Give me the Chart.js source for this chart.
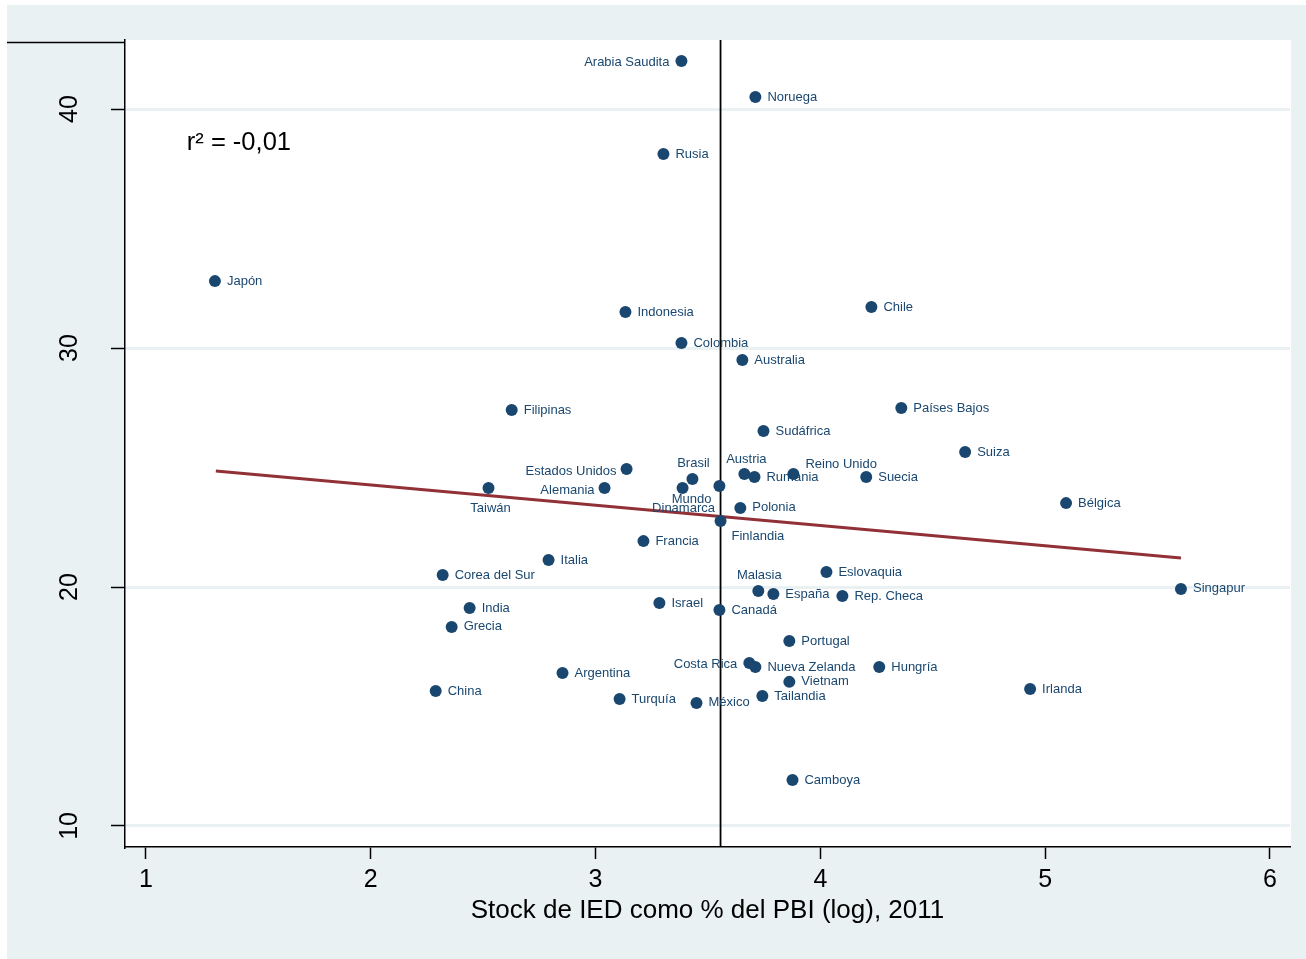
<!DOCTYPE html>
<html>
<head>
<meta charset="utf-8">
<script src="https://cdn.jsdelivr.net/npm/chart.js@4"></script>
<style>
  html, body { margin: 0; padding: 0; background: #ffffff; }
  canvas { display: block; }
</style>
</head>
<body>
<canvas id="c" width="1306" height="959"></canvas>
<script>
// ---------- DATA ----------
const countries = ["Arabia Saudita","Noruega","Rusia","Japón","Indonesia","Chile","Colombia","Australia",
  "Filipinas","Países Bajos","Sudáfrica","Suiza","Estados Unidos","Brasil","Austria","Rumania",
  "Reino Unido","Suecia","Taiwán","Alemania","Dinamarca","Mundo","Polonia","Finlandia","Bélgica",
  "Francia","Italia","Corea del Sur","Eslovaquia","Malasia","España","Rep. Checa","Singapur","India",
  "Israel","Canadá","Grecia","Portugal","Costa Rica","Nueva Zelanda","Hungría","Argentina","Vietnam",
  "China","Irlanda","Turquía","Tailandia","México","Camboya"];
const fdiStockLog = [3.382,3.711,3.302,1.307,3.133,4.227,3.382,3.653,
  2.627,4.360,3.747,4.644,3.138,3.431,3.662,3.707,
  3.880,4.204,2.524,3.040,3.387,3.551,3.644,3.556,5.093,
  3.213,2.791,2.320,4.027,3.724,3.791,4.098,5.604,2.440,
  3.284,3.551,2.360,3.862,3.684,3.711,4.262,2.853,3.862,
  2.289,4.933,3.107,3.742,3.449,3.876];
const yValues = [42.01,40.50,38.12,32.80,31.51,31.72,30.21,29.50,
  27.41,27.49,26.53,25.65,24.94,24.52,24.73,24.60,
  24.73,24.60,24.14,24.14,24.14,24.23,23.31,22.76,23.51,
  21.92,21.13,20.50,20.63,19.83,19.71,19.62,19.92,19.12,
  19.33,19.04,18.33,17.74,16.82,16.65,16.65,16.40,16.03,
  15.65,15.73,15.31,15.44,15.15,11.92];
const fitX = [1.311, 5.604];
const fitY = [24.85, 21.21];
const worldX = 3.556;
const xTicks = [1, 2, 3, 4, 5, 6];
const yTicks = [10, 20, 30, 40];
const r2Text = "r\u00B2 = -0,01";
const xTitle = "Stock de IED como % del PBI (log), 2011";

// ---------- STYLE / LAYOUT ----------
const FONT = '"Liberation Sans", Arial, sans-serif';
const NAVY = '#1a476f';
const BG = '#eaf1f3';
const X_MIN = 0.907, X_MAX = 6.089, Y_MIN = 9.12, Y_MAX = 42.89;

// label placement exceptions (pixel offsets from marker centre)
const labelPlacement = {
  "Arabia Saudita": {dx: -12, dy: 1, align: 'right'},
  "Estados Unidos": {dx: -10, dy: 2, align: 'right'},
  "Alemania": {dx: -10, dy: 2, align: 'right'},
  "Costa Rica": {dx: -12, dy: 1, align: 'right'},
  "Taiwán": {dx: 2, dy: 20, align: 'center'},
  "Dinamarca": {dx: 1, dy: 20, align: 'center'},
  "Mundo": {dx: -8, dy: 14, align: 'right'},
  "Brasil": {dx: 1, dy: -16, align: 'center'},
  "Austria": {dx: 2, dy: -15, align: 'center'},
  "Malasia": {dx: 1, dy: -16, align: 'center'},
  "Finlandia": {dx: 11, dy: 15, align: 'left'},
  "Reino Unido": {dx: 12, dy: -10, align: 'left'}
};

const bgPlugin = {
  id: 'bg',
  beforeDraw(chart) {
    const {ctx, chartArea: a, width, height} = chart;
    ctx.save();
    ctx.fillStyle = '#ffffff';
    ctx.fillRect(0, 0, width, height);
    ctx.fillStyle = BG;
    ctx.fillRect(7, 5, width - 7, height - 5);
    ctx.fillStyle = '#ffffff';
    ctx.fillRect(a.left, a.top, a.right - a.left + 1, a.bottom - a.top);
    ctx.restore();
  },
  afterDraw(chart) {
    const {ctx, chartArea: a} = chart;
    ctx.save();
    ctx.strokeStyle = '#000';
    ctx.lineWidth = 1.5;
    ctx.beginPath();
    ctx.moveTo(7, 42.5);
    ctx.lineTo(a.left, 42.5);
    ctx.stroke();
    ctx.restore();
  }
};

const labelPlugin = {
  id: 'pointLabels',
  afterDatasetsDraw(chart) {
    const {ctx, scales} = chart;
    const meta = chart.getDatasetMeta(0);
    ctx.save();
    ctx.font = '13px ' + FONT;
    ctx.fillStyle = NAVY;
    ctx.textBaseline = 'middle';
    meta.data.forEach((pt, i) => {
      const name = countries[i];
      const p = labelPlacement[name] || {dx: 12, dy: 0, align: 'left'};
      ctx.textAlign = p.align;
      ctx.fillText(name, pt.x + p.dx, pt.y + p.dy);
    });
    // r² annotation
    ctx.font = '25.5px ' + FONT;
    ctx.fillStyle = '#000';
    ctx.textAlign = 'left';
    ctx.fillText(r2Text, scales.x.getPixelForValue(1.182), scales.y.getPixelForValue(38.58));
    ctx.restore();
  }
};

new Chart(document.getElementById('c'), {
  type: 'scatter',
  data: {
    datasets: [
      {
        label: 'Países',
        data: countries.map((c, i) => ({x: fdiStockLog[i], y: yValues[i]})),
        backgroundColor: NAVY,
        borderWidth: 0,
        pointRadius: 6,
        pointHoverRadius: 6,
        order: 0
      },
      {
        type: 'line',
        label: 'Ajuste lineal',
        data: fitX.map((x, i) => ({x: x, y: fitY[i]})),
        borderColor: '#913037',
        borderWidth: 3,
        pointRadius: 0,
        fill: false,
        order: 1
      },
      {
        type: 'line',
        label: 'Mundo',
        data: [{x: worldX, y: Y_MIN}, {x: worldX, y: Y_MAX}],
        borderColor: '#000',
        borderWidth: 1.8,
        pointRadius: 0,
        fill: false,
        order: 2
      }
    ]
  },
  options: {
    responsive: false,
    animation: false,
    events: [],
    layout: { padding: {left: 0, top: 40, right: 16, bottom: 0} },
    plugins: { legend: {display: false}, tooltip: {enabled: false} },
    scales: {
      x: {
        type: 'linear',
        min: X_MIN, max: X_MAX,
        afterFit(s) { s.height = 112; s.paddingLeft = 0; s.paddingRight = 0; },
        afterBuildTicks(s) { s.ticks = xTicks.map(v => ({value: v})); },
        border: {display: true, color: '#000', width: 1.5},
        grid: {display: true, drawOnChartArea: false, drawTicks: true, tickLength: 12, tickColor: '#000', tickWidth: 1.5},
        ticks: {font: {family: FONT, size: 25}, color: '#000', padding: 6, maxRotation: 0, autoSkip: false},
        title: {display: true, text: xTitle, font: {family: FONT, size: 26}, color: '#000', padding: {top: 0, bottom: 33}}
      },
      y: {
        type: 'linear',
        min: Y_MIN, max: Y_MAX,
        afterFit(s) { s.width = 125; s.paddingTop = 0; s.paddingBottom = 0; },
        afterBuildTicks(s) { s.ticks = yTicks.map(v => ({value: v})); },
        border: {display: true, color: '#000', width: 1.5},
        grid: {display: true, drawOnChartArea: true, color: BG, lineWidth: 3, drawTicks: true, tickLength: 14, tickColor: '#000', tickWidth: 1.5},
        ticks: {font: {family: FONT, size: 25}, color: '#000', padding: 27, minRotation: 90, maxRotation: 90, crossAlign: 'center', autoSkip: false}
      }
    }
  },
  plugins: [bgPlugin, labelPlugin]
});
</script>
</body>
</html>
